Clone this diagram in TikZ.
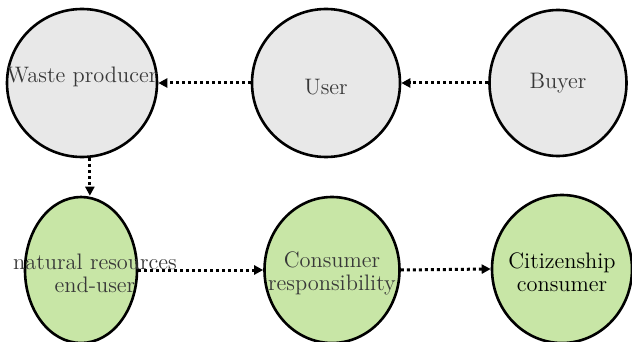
\documentclass[tikz,border=0pt]{standalone}
\usepackage{fontspec}
\usepackage{xcolor}
\usepackage{tikz}
\usetikzlibrary{arrows.meta,positioning,shapes.geometric}
\definecolor{roleGray}{RGB}{232,232,232}
\definecolor{roleGreen}{RGB}{200,230,166}
\definecolor{roleText}{RGB}{56,56,56}

\begin{document}
\begin{tikzpicture}[
  x=0.5pt, y=-0.5pt,
  font=\rmfamily\fontsize{11.2}{11.6}\selectfont,
  role/.style={ellipse, draw=black, line width=1.3pt, inner sep=0pt},
  old/.style={role, fill=roleGray},
  new/.style={role, fill=roleGreen},
  txt/.style={text=roleText, align=center, inner sep=0pt},
  flow/.style={line width=1.5pt, dash pattern=on 1.5pt off 1.5pt, -{Triangle[length=4.5pt,width=4.5pt]}}
]
\useasboundingbox (0,0) rectangle (632,342);

\node[old, minimum width=75pt, minimum height=74pt,
      label={[txt, yshift=3pt]center:Waste producer}] (waste) at (82,83) {};
\node[old, minimum width=74pt, minimum height=74pt,
      label={[txt, yshift=-2pt]center:User}] (user) at (326,83) {};
\node[old, minimum width=68.5pt, minimum height=73pt,
      label={[txt]center:Buyer}] (buyer) at (558,83) {};

\node[new, minimum width=56pt, minimum height=73pt,
      label={[txt, xshift=7pt, yshift=-1.5pt]center:natural resources\\end-user}] (natural) at (81,270) {};
\node[new, minimum width=67.5pt, minimum height=73pt,
      label={[txt, yshift=-1.5pt]center:Consumer\\responsibility}] (resp) at (332,270) {};
\node[new, minimum width=70pt, minimum height=74pt,
      label={[txt, text=black, yshift=-1.5pt]center:Citizenship\\consumer}] (citizen) at (562,269) {};

\draw[flow] (buyer.west) -- (user.east);
\draw[flow] (user.west)  -- (waste.east);
\draw[flow] (waste.-84)  -- (waste.-84 |- natural.north);
\draw[flow] (natural.east) -- (resp.west);
\draw[flow] (resp.east)  -- (citizen.west);
\end{tikzpicture}
\end{document}
